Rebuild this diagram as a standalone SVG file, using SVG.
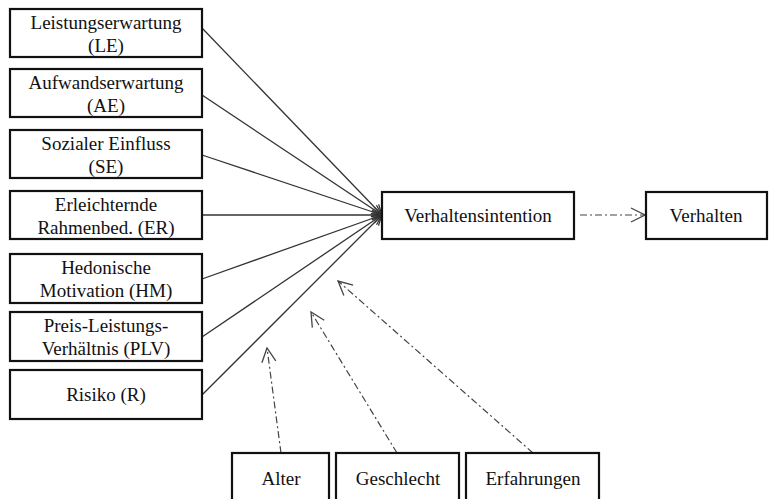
<svg xmlns="http://www.w3.org/2000/svg" width="769" height="499" viewBox="0 0 769 499">
<defs>
<style>
.box{fill:#fff;stroke:#111;stroke-width:2.2}
.t{font-family:'Liberation Serif',serif;font-size:19px;fill:#111;text-anchor:middle}
.c{fill:none;stroke:#333;stroke-width:1.3}
.d{fill:none;stroke:#444;stroke-width:1.2;stroke-dasharray:7 3 2 3}
</style>
<marker id="ah" viewBox="0 0 12 12" refX="11" refY="6" markerWidth="12" markerHeight="12" markerUnits="userSpaceOnUse" orient="auto">
<path d="M1,1 L11,6 L1,11" fill="none" stroke="#333" stroke-width="1.3"/>
</marker>
<marker id="oh" viewBox="0 0 16 16" refX="15" refY="8" markerWidth="16" markerHeight="16" markerUnits="userSpaceOnUse" orient="auto">
<path d="M1,1 L15,8 L1,15" fill="none" stroke="#444" stroke-width="1.3"/>
</marker>
</defs>
<rect width="769" height="499" fill="#fff"/>
<g id="connectors">
<line class="c" x1="202" y1="28" x2="382" y2="215" marker-end="url(#ah)"/>
<line class="c" x1="202" y1="95" x2="382" y2="215" marker-end="url(#ah)"/>
<line class="c" x1="202" y1="155" x2="382" y2="215" marker-end="url(#ah)"/>
<line class="c" x1="202" y1="215" x2="382" y2="215" marker-end="url(#ah)"/>
<line class="c" x1="202" y1="279" x2="382" y2="215" marker-end="url(#ah)"/>
<line class="c" x1="202" y1="337" x2="382" y2="215" marker-end="url(#ah)"/>
<line class="c" x1="202" y1="395" x2="382" y2="215" marker-end="url(#ah)"/>
<line class="d" x1="580" y1="215" x2="645" y2="215" marker-end="url(#oh)"/>
<line class="d" x1="281" y1="453" x2="267" y2="348" marker-end="url(#oh)"/>
<line class="d" x1="397" y1="453" x2="311" y2="312" marker-end="url(#oh)"/>
<line class="d" x1="533" y1="453" x2="338" y2="281" marker-end="url(#oh)"/>
</g>
<g id="le"><rect class="box" x="10" y="9" width="192" height="48"/><text class="t" x="106" y="29">Leistungserwartung</text><text class="t" x="106" y="52">(LE)</text></g>
<g id="ae"><rect class="box" x="10" y="69" width="192" height="48"/><text class="t" x="106" y="89">Aufwandserwartung</text><text class="t" x="106" y="112">(AE)</text></g>
<g id="se"><rect class="box" x="10" y="130" width="192" height="48"/><text class="t" x="106" y="150">Sozialer Einfluss</text><text class="t" x="106" y="173">(SE)</text></g>
<g id="er"><rect class="box" x="10" y="191" width="192" height="48"/><text class="t" x="106" y="211">Erleichternde</text><text class="t" x="106" y="234">Rahmenbed. (ER)</text></g>
<g id="hm"><rect class="box" x="10" y="254" width="192" height="49"/><text class="t" x="106" y="274">Hedonische</text><text class="t" x="106" y="297">Motivation (HM)</text></g>
<g id="plv"><rect class="box" x="10" y="312" width="192" height="49"/><text class="t" x="106" y="332">Preis-Leistungs-</text><text class="t" x="106" y="355">Verhältnis (PLV)</text></g>
<g id="r"><rect class="box" x="10" y="370" width="192" height="49"/><text class="t" x="106" y="401">Risiko (R)</text></g>
<g id="vi"><rect class="box" x="382" y="192" width="192" height="47"/><text class="t" x="478" y="222">Verhaltensintention</text></g>
<g id="v"><rect class="box" x="646" y="192" width="121" height="47"/><text class="t" x="706" y="222">Verhalten</text></g>
<g id="alter"><rect class="box" x="232" y="453" width="97" height="60"/><text class="t" x="281" y="485">Alter</text></g>
<g id="geschlecht"><rect class="box" x="336" y="453" width="123" height="60"/><text class="t" x="398" y="485">Geschlecht</text></g>
<g id="erfahrungen"><rect class="box" x="466" y="453" width="133" height="60"/><text class="t" x="533" y="485">Erfahrungen</text></g>
</svg>
